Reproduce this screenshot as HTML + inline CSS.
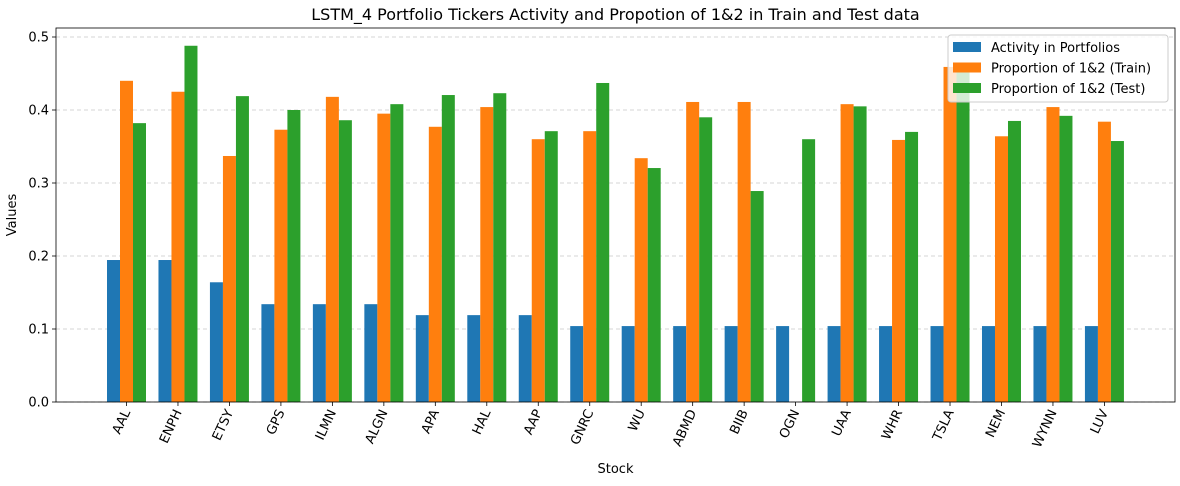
<!DOCTYPE html>
<html><head><meta charset="utf-8"><style>
body{margin:0;background:#fff;font-family:"Liberation Sans","DejaVu Sans",sans-serif}
svg text{font-family:"DejaVu Sans","Liberation Sans",sans-serif}
</style></head><body>
<svg id="c" width="1180" height="481" xmlns="http://www.w3.org/2000/svg"></svg>
<script>
const categories=["AAL","ENPH","ETSY","GPS","ILMN","ALGN","APA","HAL","AAP","GNRC","WU","ABMD","BIIB","OGN","UAA","WHR","TSLA","NEM","WYNN","LUV"];
const activity=[0.1945,0.1945,0.164,0.134,0.134,0.134,0.119,0.119,0.119,0.104,0.104,0.104,0.104,0.104,0.104,0.104,0.104,0.104,0.104,0.104];
const trainProp=[0.44,0.425,0.337,0.373,0.418,0.395,0.377,0.404,0.36,0.371,0.334,0.411,0.411,0,0.408,0.359,0.459,0.364,0.404,0.384];
const testProp=[0.382,0.488,0.419,0.40,0.386,0.408,0.4205,0.423,0.371,0.437,0.3205,0.39,0.289,0.36,0.405,0.37,0.452,0.385,0.392,0.3575];
const yTicks=[0,0.1,0.2,0.3,0.4,0.5];
const seriesNames=["Activity in Portfolios","Proportion of 1&2 (Train)","Proportion of 1&2 (Test)"];
const colors=["#1f77b4","#ff7f0e","#2ca02c"];
const NS="http://www.w3.org/2000/svg";
const svg=document.getElementById('c');
const L=56,R=1175,T=28,B=402;
const y=v=>402-v*730;
const x=i=>126.5+i*51.47;
const bw=13;
function el(t,a,p){const e=document.createElementNS(NS,t);for(const k in a)e.setAttribute(k,a[k]);(p||svg).appendChild(e);return e;}
// grid
yTicks.forEach(v=>{
 const g=el('line',{x1:L,x2:R,y1:y(v),y2:y(v),stroke:'#b0b0b0','stroke-width':0.8,'stroke-dasharray':'4,3',opacity:0.7});
 
 
 const t=el('line',{x1:L-4,x2:L,y1:y(v),y2:y(v),stroke:'#000','stroke-width':0.8});
 const lb=el('text',{x:L-7,y:y(v)+4.5,'text-anchor':'end','font-size':13});
 lb.textContent=v.toFixed(1);
 
 
});
const series=[activity,trainProp,testProp];
series.forEach((s,si)=>{
 s.forEach((v,i)=>{
  const r=el('rect',{x:x(i)+(si-1)*bw-bw/2,y:y(v),width:bw,height:y(0)-y(v),fill:colors[si]});
  
  
 });
});
categories.forEach((c,i)=>{
 el('line',{x1:x(i),x2:x(i),y1:B,y2:B+4,stroke:'#000','stroke-width':0.8});
 const t=el('text',{transform:`translate(${x(i)+4},${B+10}) rotate(-65)`,'text-anchor':'end','font-size':13});
 t.textContent=c;
 
 
});
el('rect',{x:L,y:T,width:R-L,height:B-T,fill:'none',stroke:'#000','stroke-width':0.8});
const title=el('text',{x:615.5,y:20,'text-anchor':'middle','font-size':16});title.textContent="LSTM_4 Portfolio Tickers Activity and Propotion of 1&2 in Train and Test data";


const xt=el('text',{x:615.5,y:473,'text-anchor':'middle','font-size':13});xt.textContent="Stock";


const yt=el('text',{transform:'translate(16,215) rotate(-90)','text-anchor':'middle','font-size':13});yt.textContent="Values";


const lg=el('g',{});


el('rect',{x:948,y:35,width:220,height:67,rx:3,fill:'#fff','fill-opacity':0.8,stroke:'#ccc'},lg);
seriesNames.forEach((n,i)=>{
 el('rect',{x:953,y:42+i*20.5,width:28,height:10,fill:colors[i]},lg);
 const t=el('text',{x:991,y:52+i*20.5,'font-size':13},lg);t.textContent=n;
 
 
});
</script>
</body></html>
